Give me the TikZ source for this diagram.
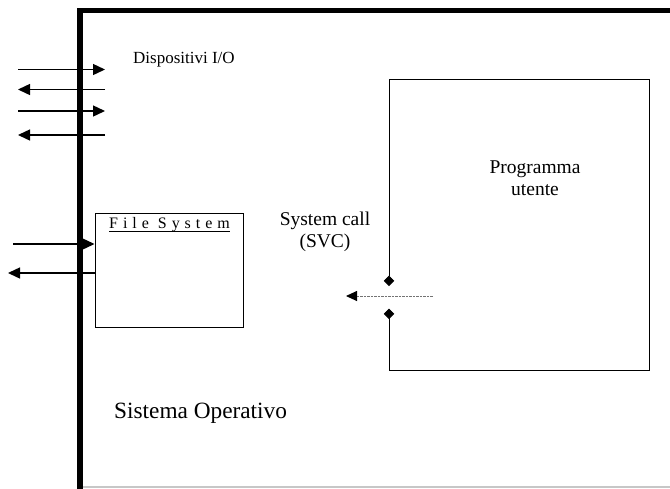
\documentclass[tikz,border=0pt]{standalone}
\usepackage{fontspec}
\setmainfont{Liberation Serif}
\usetikzlibrary{arrows.meta}

\tikzset{
  lbl/.style={inner sep=0pt, align=center, font=\fontsize{19.5}{22.5}\selectfont},
  frameline/.style={line width=5.5pt, line join=miter, line cap=butt},
  boxline/.style={line width=1pt, line join=miter},
  ioarrow/.style={line width=1.4pt, -{Triangle[length=12pt,width=11pt]}},
  callarrow/.style={line width=0.9pt, draw=black!55, dash pattern=on 0.7pt off 0.7pt,
    -{Triangle[length=11pt,width=10pt,black]}},
  gate/.style={boxline, {Diamond[length=10.5pt,width=10.5pt]}-{Diamond[length=10.5pt,width=10.5pt]}}
}

\begin{document}
\begin{tikzpicture}[x=1pt, y=-1pt]
  \useasboundingbox (0,0) rectangle (670,488);

  % operating system frame: heavy left and top edges, faint bottom edge
  \coordinate (osbl) at (80,492);
  \coordinate (ostl) at (80,10.5);
  \coordinate (ostr) at (672,10.5);
  \coordinate (osb1) at (83,487);
  \coordinate (osb2) at (672,487);
  \draw[black!22, line width=1.5pt] (osb1) -- (osb2);
  \draw[frameline] (osbl) -- (ostl) -- (ostr);

  % I/O device channels crossing the frame
  \coordinate (ioA1) at (18,69.5);  \coordinate (ioA2) at (105,69.5);
  \coordinate (ioB1) at (105,89.5); \coordinate (ioB2) at (18,89.5);
  \coordinate (ioC1) at (18,111);   \coordinate (ioC2) at (105,111);
  \coordinate (ioD1) at (105,135);  \coordinate (ioD2) at (18,135);
  \draw[ioarrow] (ioA1) -- (ioA2);
  \draw[ioarrow] (ioB1) -- (ioB2);
  \draw[ioarrow] (ioC1) -- (ioC2);
  \draw[ioarrow] (ioD1) -- (ioD2);
  \node[lbl, anchor=base west, font=\fontsize{17}{20}\selectfont] (io) at (133,63) {Dispositivi I/O};

  % file system block
  \node[draw, boxline, minimum width=148pt, minimum height=114pt, inner sep=0pt] (fs) at (169,270) {};
  \node[inner sep=0pt, anchor=base west,
        font=\fontsize{16}{19}\selectfont\addfontfeature{LetterSpace=31}] (fstitle) at (109,228) {File System};
  \draw[line width=0.9pt] (fstitle.south west) -- (fstitle.south east);
  \coordinate (fsA1) at (13,244);
  \coordinate (fsB2) at (8,273);
  \draw[ioarrow] (fsA1) -- (fs.west |- fsA1);
  \draw[ioarrow] (fs.west |- fsB2) -- (fsB2);

  % user program block, its left side broken by the call gate
  \coordinate (upTL) at (389,79);
  \coordinate (upTR) at (649,79);
  \coordinate (upBR) at (649,370);
  \coordinate (upBL) at (389,370);
  \coordinate (gateA) at (389,286);
  \coordinate (gateB) at (389,308.5);
  \draw[gate] (gateA) -- (upTL) -- (upTR) -- (upBR) -- (upBL) -- (gateB);
  \node[lbl] (up) at (535,178) {Programma\\utente};

  % system call into the operating system
  \coordinate (svcA) at (433,296);
  \coordinate (svcB) at (346,296);
  \draw[callarrow] (svcA) -- (svcB);
  \node[lbl] (svc) at (325,232) {System call\\(SVC)};

  \node[lbl, anchor=base west, font=\fontsize{23.3}{27}\selectfont] (os) at (114,418) {Sistema Operativo};
\end{tikzpicture}
\end{document}
